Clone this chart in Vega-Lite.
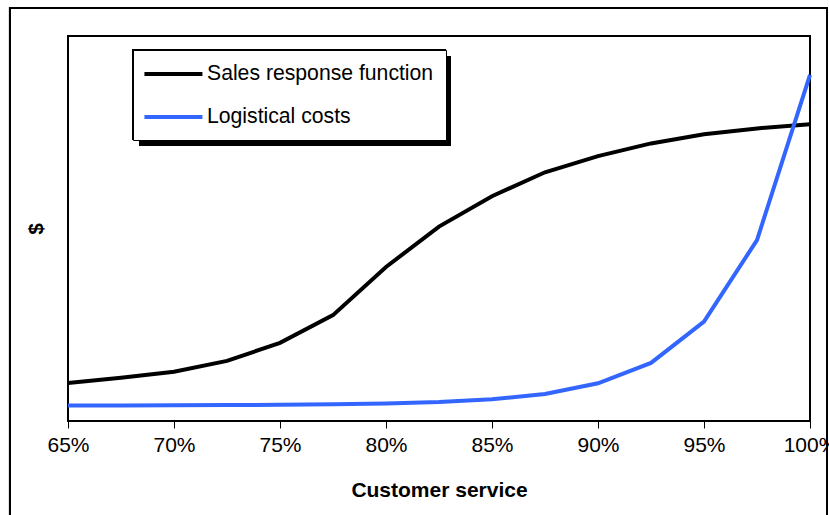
{
  "$schema": "https://vega.github.io/schema/vega-lite/v6.json",
  "autosize": "none",
  "width": 742,
  "height": 385,
  "padding": {"left": 68, "top": 36, "right": 19, "bottom": 94},
  "background": "white",
  "config": {
    "font": "Liberation Sans",
    "view": {"stroke": "black", "strokeWidth": 2}
  },
  "data": {
    "values": [
      {"series": "Sales response function", "service": 0.65, "value": 9.9},
      {"series": "Sales response function", "service": 0.675, "value": 11.25},
      {"series": "Sales response function", "service": 0.70, "value": 12.8},
      {"series": "Sales response function", "service": 0.725, "value": 15.6},
      {"series": "Sales response function", "service": 0.75, "value": 20.3},
      {"series": "Sales response function", "service": 0.775, "value": 27.5},
      {"series": "Sales response function", "service": 0.80, "value": 40.0},
      {"series": "Sales response function", "service": 0.825, "value": 50.5},
      {"series": "Sales response function", "service": 0.85, "value": 58.4},
      {"series": "Sales response function", "service": 0.875, "value": 64.6},
      {"series": "Sales response function", "service": 0.90, "value": 68.8},
      {"series": "Sales response function", "service": 0.925, "value": 72.1},
      {"series": "Sales response function", "service": 0.95, "value": 74.5},
      {"series": "Sales response function", "service": 0.975, "value": 76.0},
      {"series": "Sales response function", "service": 1.0, "value": 77.1},
      {"series": "Logistical costs", "service": 0.65, "value": 4.03},
      {"series": "Logistical costs", "service": 0.675, "value": 4.05},
      {"series": "Logistical costs", "service": 0.70, "value": 4.08},
      {"series": "Logistical costs", "service": 0.725, "value": 4.13},
      {"series": "Logistical costs", "service": 0.75, "value": 4.21},
      {"series": "Logistical costs", "service": 0.775, "value": 4.34},
      {"series": "Logistical costs", "service": 0.80, "value": 4.55},
      {"series": "Logistical costs", "service": 0.825, "value": 4.94},
      {"series": "Logistical costs", "service": 0.85, "value": 5.64},
      {"series": "Logistical costs", "service": 0.875, "value": 7.0},
      {"series": "Logistical costs", "service": 0.90, "value": 9.8},
      {"series": "Logistical costs", "service": 0.925, "value": 15.1},
      {"series": "Logistical costs", "service": 0.95, "value": 25.8},
      {"series": "Logistical costs", "service": 0.975, "value": 47.0},
      {"series": "Logistical costs", "service": 1.0, "value": 89.9}
    ]
  },
  "layer": [
    {
      "mark": {"type": "rect", "fillOpacity": 0, "stroke": "black", "strokeWidth": 2, "clip": false},
      "encoding": {
        "x": {"datum": 0.62264, "type": "quantitative"},
        "x2": {"datum": 1.00802},
        "y": {"datum": 107.27, "type": "quantitative"},
        "y2": {"datum": -40}
      }
    },
    {
      "mark": {"type": "rect", "fill": "black", "clip": false},
      "encoding": {
        "x": {"datum": 0.680189, "type": "quantitative"},
        "x2": {"datum": 0.828302},
        "y": {"datum": 96.623, "type": "quantitative"},
        "y2": {"datum": 72.987}
      }
    },
    {
      "mark": {"type": "rect", "fill": "black", "clip": false},
      "encoding": {
        "x": {"datum": 0.683491, "type": "quantitative"},
        "x2": {"datum": 0.830660},
        "y": {"datum": 94.805, "type": "quantitative"},
        "y2": {"datum": 71.429}
      }
    },
    {
      "mark": {"type": "line", "strokeWidth": 4, "clip": false},
      "encoding": {
        "x": {
          "field": "service", "type": "quantitative",
          "scale": {"domain": [0.65, 1.0], "nice": false, "zero": false},
          "axis": {
            "values": [0.65, 0.70, 0.75, 0.80, 0.85, 0.90, 0.95, 1.0],
            "format": ".0%",
            "grid": false,
            "domain": false,
            "tickColor": "black",
            "tickSize": 7,
            "tickWidth": 1,
            "labelFontSize": 21,
            "labelColor": "black",
            "labelPadding": 6,
            "labelFlush": false,
            "labelOverlap": false,
            "title": "Customer service",
            "titleFontSize": 21,
            "titleFontWeight": "bold",
            "titleColor": "black",
            "titlePadding": 24
          }
        },
        "y": {
          "field": "value", "type": "quantitative",
          "scale": {"domain": [0, 100], "nice": false, "zero": false},
          "axis": {
            "labels": false,
            "ticks": false,
            "domain": false,
            "grid": false,
            "title": "$",
            "titleFontSize": 21,
            "titleFontWeight": "bold",
            "titleColor": "black",
            "titlePadding": 22
          }
        },
        "color": {
          "field": "series", "type": "nominal",
          "scale": {"domain": ["Sales response function", "Logistical costs"], "range": ["#000000", "#3366ff"]},
          "legend": {
            "title": null,
            "orient": "none",
            "legendX": 65,
            "legendY": 14,
            "fillColor": "white",
            "strokeColor": "black",
            "padding": 12,
            "symbolType": "M-1.3,0H4.7",
            "symbolSize": 374,
            "symbolStrokeWidth": 4,
            "labelFontSize": 21.2,
            "labelColor": "black",
            "labelOffset": 38,
            "labelLimit": 400,
            "rowPadding": 20
          }
        }
      }
    }
  ]
}
